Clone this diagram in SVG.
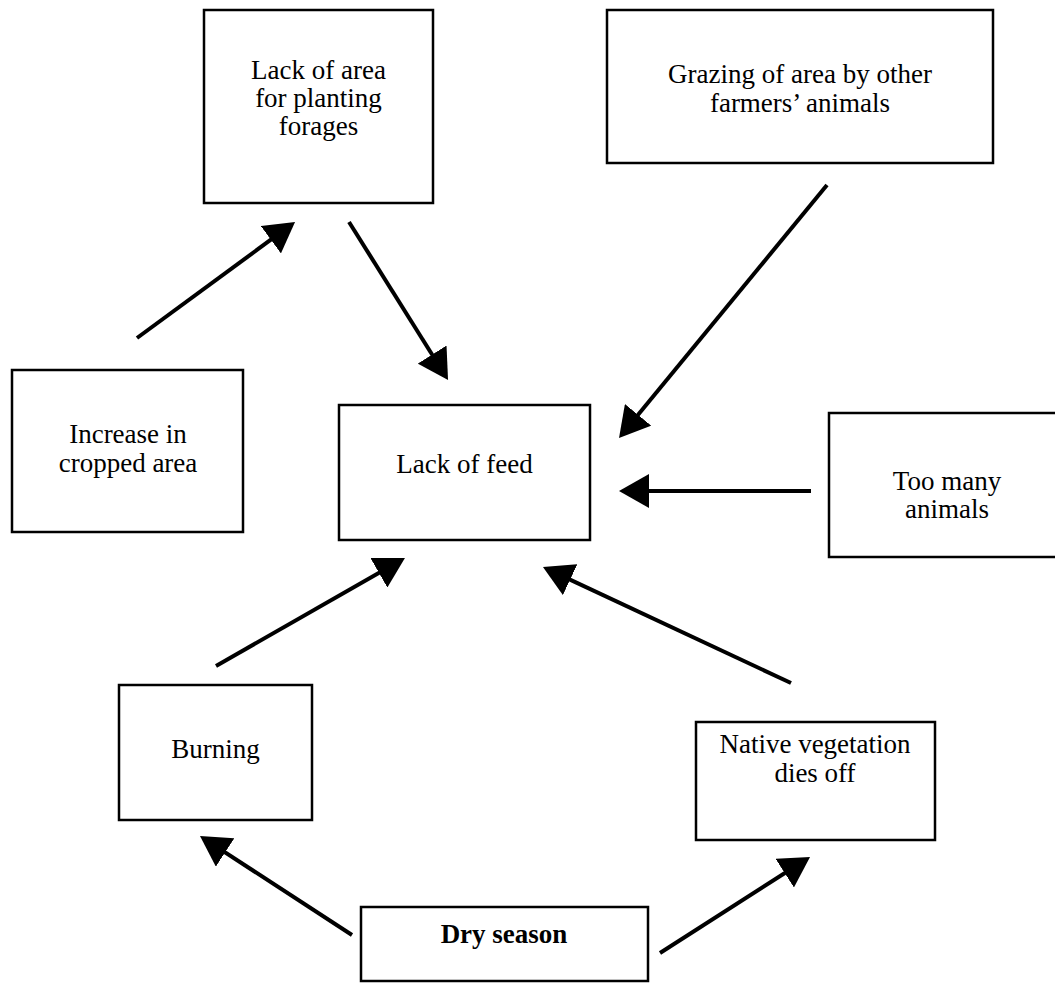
<svg xmlns="http://www.w3.org/2000/svg" width="1055" height="983" viewBox="0 0 1055 983">
  <style>
    .box { fill: #ffffff; stroke: #000000; stroke-width: 2.5; }
    .lbl { font-family: "Liberation Serif", "DejaVu Serif", "Times New Roman", serif; font-size: 27px; fill: #000000; text-anchor: middle; }
    .bold { font-weight: bold; }
    .arrow { stroke: #000000; stroke-width: 4; fill: none; marker-end: url(#head); }
  </style>
  <defs>
    <marker id="head" markerUnits="userSpaceOnUse" viewBox="0 0 30 34" markerWidth="30" markerHeight="34" refX="22" refY="17" orient="auto">
      <path d="M0,0 L30,17 L0,34 z" fill="#000000"/>
    </marker>
  </defs>
  <rect width="1055" height="983" fill="#ffffff"/>

  <g id="connectors">
    <line class="arrow" x1="137" y1="338" x2="288.6" y2="226.7"/>
    <line class="arrow" x1="349" y1="222" x2="443.8" y2="373.2"/>
    <line class="arrow" x1="827" y1="185" x2="624.1" y2="431.8"/>
    <line class="arrow" x1="811" y1="491" x2="627" y2="491"/>
    <line class="arrow" x1="216" y1="666" x2="398" y2="561.9"/>
    <line class="arrow" x1="791" y1="683" x2="550.2" y2="570.4"/>
    <line class="arrow" x1="352" y1="935" x2="206.7" y2="840.4"/>
    <line class="arrow" x1="660" y1="953" x2="803.3" y2="861.3"/>
  </g>

  <g id="lack-of-area" font-family="Liberation Serif, serif">
    <rect class="box" x="204" y="10" width="229" height="193"/>
    <text class="lbl" x="318.5" y="79">Lack of area</text>
    <text class="lbl" x="318.5" y="107">for planting</text>
    <text class="lbl" x="318.5" y="135">forages</text>
  </g>

  <g id="grazing" font-family="Liberation Serif, serif">
    <rect class="box" x="607" y="10" width="386" height="153"/>
    <text class="lbl" x="800" y="83">Grazing of area by other</text>
    <text class="lbl" x="800" y="112">farmers’ animals</text>
  </g>

  <g id="increase-cropped" font-family="Liberation Serif, serif">
    <rect class="box" x="12" y="370" width="231" height="162"/>
    <text class="lbl" x="128" y="443">Increase in</text>
    <text class="lbl" x="128" y="472">cropped area</text>
  </g>

  <g id="lack-of-feed" font-family="Liberation Serif, serif">
    <rect class="box" x="339" y="405" width="251" height="135"/>
    <text class="lbl" x="464.5" y="473">Lack of feed</text>
  </g>

  <g id="too-many" font-family="Liberation Serif, serif">
    <rect class="box" x="829" y="413" width="237" height="144"/>
    <text class="lbl" x="947" y="490">Too many</text>
    <text class="lbl" x="947" y="518">animals</text>
  </g>

  <g id="burning" font-family="Liberation Serif, serif">
    <rect class="box" x="119" y="685" width="193" height="135"/>
    <text class="lbl" x="215.5" y="758">Burning</text>
  </g>

  <g id="native-vegetation" font-family="Liberation Serif, serif">
    <rect class="box" x="696" y="722" width="239" height="118"/>
    <text class="lbl" x="815" y="753">Native vegetation</text>
    <text class="lbl" x="815" y="782">dies off</text>
  </g>

  <g id="dry-season" font-family="Liberation Serif, serif">
    <rect class="box" x="361" y="907" width="287" height="74"/>
    <text class="lbl bold" x="504" y="943">Dry season</text>
  </g>
</svg>
